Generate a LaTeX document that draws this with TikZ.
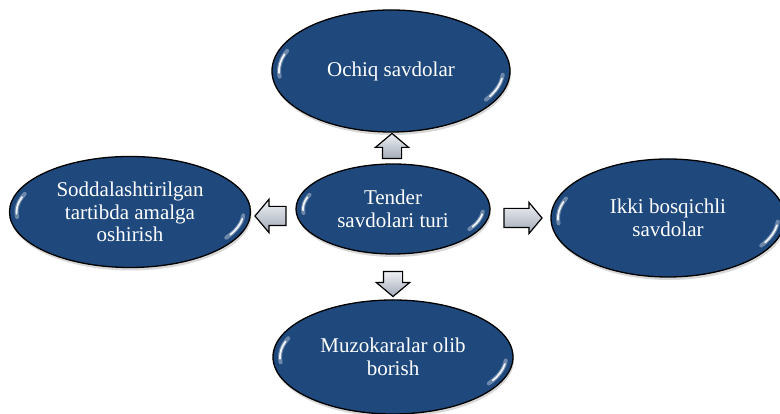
\documentclass[tikz,border=0pt]{standalone}
\usepackage{fontspec}
\setmainfont{Liberation Serif}
\newfontfamily\bubblefont{Liberation Serif}
\usetikzlibrary{shapes.geometric,shapes.arrows,shadows}
\definecolor{ellblue}{HTML}{1F497D}
\definecolor{ellmid}{HTML}{3A5E8D}
\definecolor{elledge}{HTML}{A3B1C3}
\definecolor{arrlight}{HTML}{EEF0F4}
\definecolor{arrdark}{HTML}{A3ABB8}
\pgfdeclareradialshading{glossyblue}{\pgfpoint{0bp}{0bp}}{color(0bp)=(ellblue); color(39bp)=(ellblue); color(46.5bp)=(ellmid); color(50bp)=(elledge)}
\newcommand\glossmark[3]{%
  \draw[glossout] (#1.center) ++(158:{#2-7} and {#3-7}) arc[start angle=158, end angle=186, x radius={#2-7}, y radius={#3-7}];
  \draw[glossin] (#1.center) ++(162:{#2-7} and {#3-7}) arc[start angle=162, end angle=182, x radius={#2-7}, y radius={#3-7}];
  \draw[glossout] (#1.center) ++(-32:{#2-7} and {#3-7}) arc[start angle=-32, end angle=-4, x radius={#2-7}, y radius={#3-7}];
  \draw[glossin] (#1.center) ++(-28:{#2-7} and {#3-7}) arc[start angle=-28, end angle=-8, x radius={#2-7}, y radius={#3-7}];
}
\tikzset{
  bubble/.style={ellipse, draw=black, line width=1.3pt, shading=glossyblue,
    inner sep=0pt, text=white, align=center,
    font=\bubblefont\fontsize{21}{22.5}\selectfont,
    drop shadow={opacity=0.3, shadow xshift=1pt, shadow yshift=-3pt}},
  arrowbox/.style={single arrow, draw=black, line width=1.2pt,
    top color=arrlight, bottom color=arrdark, inner sep=0pt,
    text width=0pt, text height=9pt, text depth=9pt,
    single arrow head extend=7pt, single arrow tip angle=100},
  glossout/.style={white, line width=4pt, opacity=0.35, line cap=round},
  glossin/.style={white, line width=1.8pt, opacity=0.9, line cap=round},
}
\begin{document}
\begin{tikzpicture}[x=1pt,y=1pt]
\useasboundingbox[fill=white] (0,0) rectangle (780,414);
\node[bubble, minimum width=238, minimum height=122] (top) at (391,343) {Ochiq savdolar};
\node[bubble, minimum width=194, minimum height=90] (mid) at (393,205) {Tender\\savdolari turi};
\node[bubble, minimum width=241, minimum height=111] (left) at (130,202) {Soddalashtirilgan\\tartibda amalga\\oshirish};
\node[bubble, minimum width=234, minimum height=118] (right) at (668,196) {Ikki bosqichli\\savdolar};
\node[bubble, minimum width=240, minimum height=114] (bottom) at (393,57) {Muzokaralar olib\\borish};
\glossmark{top}{119}{61}
\glossmark{mid}{97}{45}
\glossmark{left}{120.5}{55.5}
\glossmark{right}{117}{59}
\glossmark{bottom}{120}{57}
\node[arrowbox, rotate=90, minimum height=25] (aup) at (392,264) {};
\node[arrowbox, rotate=-90, minimum height=25] (adown) at (393,134) {};
\node[arrowbox, rotate=180, minimum height=31] (aleft) at (274.5,198) {};
\node[arrowbox, minimum height=38, single arrow head extend=6pt] (aright) at (519,196) {};
\end{tikzpicture}
\end{document}
